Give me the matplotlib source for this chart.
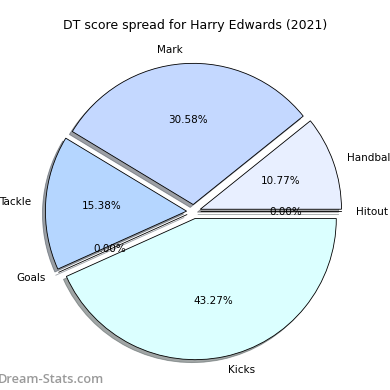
import matplotlib
matplotlib.use('Agg')
import matplotlib.pyplot as plt

labels = ["Handball", "Mark", "Tackle", "Goals", "Kicks", "Hitout"]
shares = [10.77, 30.58, 15.38, 0.00, 43.27, 0.00]
colors = ["#e8efff", "#c4d8ff", "#b5d6ff", "#b5d6ff", "#dbffff", "#dbffff"]
explode = [0.05] * len(labels)

fig = plt.figure(figsize=(5.2, 5.2), dpi=75)
ax = fig.add_axes([0.044, 0.005, 0.905, 0.905])
ax.pie(shares, labels=labels, colors=colors, explode=explode, autopct="%1.2f%%",
       shadow=True, startangle=0, wedgeprops={"edgecolor": "black", "linewidth": 0.8})
ax.set_aspect("equal")
fig.suptitle("DT score spread for Harry Edwards (2021)", fontsize=12, y=0.952)
fig.text(-0.006, 0.018, "Dream-Stats.com", fontsize=12.2, color="#9a9a9a",
         family="Open Sans", fontweight="semibold")

plt.savefig("out.png", dpi=75)
plt.close()
